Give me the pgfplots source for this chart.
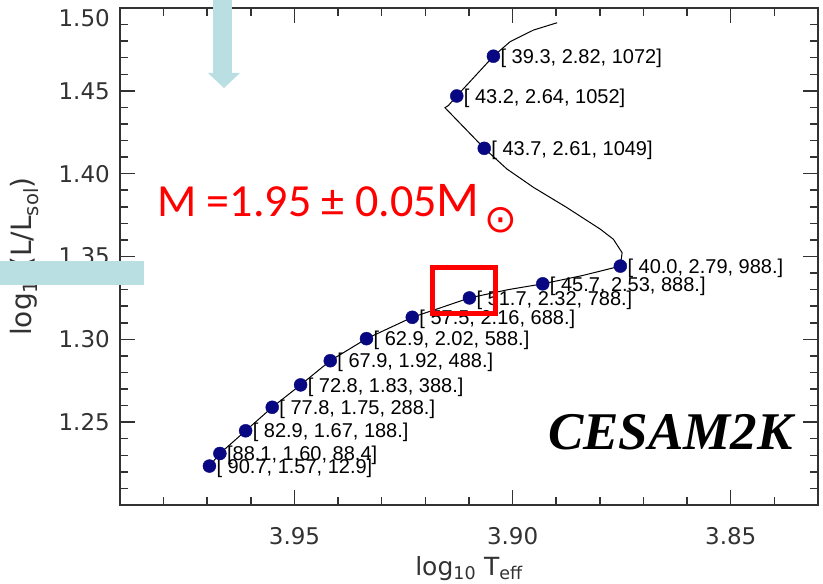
\documentclass[border=0pt]{standalone}
\usepackage{fontspec}
\setmainfont{DejaVu Sans}
\newfontfamily\labfont{Liberation Sans}
\newfontfamily\calfont{Carlito}
\newfontfamily\serfont{Liberation Serif}
\newfontfamily\symfont{DejaVu Sans}
\usepackage{pgfplots}
\usepackage{pgfplotstable}
\pgfplotsset{compat=1.18}
\definecolor{navy}{RGB}{8,8,130}
\definecolor{annblue}{RGB}{185,223,227}
\definecolor{axgray}{RGB}{50,50,50}

\pgfplotstableread[col sep=semicolon]{
x;y;lab
3.9695;1.2235;{[ 90.7, 1.57, 12.9]}
3.9671;1.2311;{[88.1, 1.60, 88.4]}
3.9612;1.2448;{[ 82.9, 1.67, 188.]}
3.9551;1.2590;{[ 77.8, 1.75, 288.]}
3.9486;1.2725;{[ 72.8, 1.83, 388.]}
3.9418;1.2871;{[ 67.9, 1.92, 488.]}
3.9335;1.3004;{[ 62.9, 2.02, 588.]}
3.9230;1.3133;{[ 57.5, 2.16, 688.]}
3.9099;1.3250;{[ 51.7, 2.32, 788.]}
3.8931;1.3335;{[ 45.7, 2.53, 888.]}
3.8753;1.3442;{[ 40.0, 2.79, 988.]}
3.9065;1.4153;{[ 43.7, 2.61, 1049]}
3.9128;1.4469;{[ 43.2, 2.64, 1052]}
3.9044;1.4709;{[ 39.3, 2.82, 1072]}
}\pts

\pgfplotstableread{
x y
3.9695 1.2235
3.9671 1.2311
3.9612 1.2448
3.9551 1.2590
3.9486 1.2725
3.9418 1.2871
3.9335 1.3004
3.9230 1.3133
3.9160 1.3195
3.9099 1.3250
3.9010 1.3300
3.8931 1.3335
3.8840 1.3385
3.8753 1.3442
3.8749 1.3523
3.8769 1.3604
3.8799 1.3665
3.8876 1.3796
3.8952 1.3917
3.9013 1.4028
3.9065 1.4153
3.9155 1.4398
3.9147 1.4412
3.9128 1.4469
3.9044 1.4709
3.9006 1.4796
3.8952 1.4867
3.8898 1.4911
}\track

\begin{document}
\begin{tikzpicture}
\begin{axis}[
  at={(0pt,0pt)}, anchor=south west,
  scale only axis, width=698pt, height=497pt,
  x dir=reverse,
  xmin=3.83, xmax=3.99, ymin=1.20, ymax=1.50,
  tick align=inside,
  hide obscured x ticks=false, hide obscured y ticks=false,
  axis line style={line width=1.5pt, axgray},
  xtick style={line width=1.5pt, color=axgray},
  ytick style={line width=1.5pt, color=axgray},
  xtick={3.85,3.90,3.95}, xticklabels={3.85,3.90,3.95},
  ytick={1.25,1.30,1.35,1.40,1.45,1.50},
  yticklabels={1.25,1.30,1.35,1.40,1.45,{}},
  extra y ticks={1.50}, extra y tick labels={1.50},
  extra y tick style={yticklabel style={yshift=-10pt}},
  minor xtick={3.84,3.86,3.87,3.88,3.89,3.91,3.92,3.93,3.94,3.96,3.97,3.98},
  minor ytick={1.21,1.22,1.23,1.24,1.26,1.27,1.28,1.29,1.31,1.32,1.33,1.34,1.36,1.37,1.38,1.39,1.41,1.42,1.43,1.44,1.46,1.47,1.48,1.49},
  major tick length=15pt, minor tick length=8pt,
  tick label style={font=\fontsize{23}{26}\selectfont, text=axgray},
  xticklabel style={anchor=north, inner sep=0pt},
  yticklabel style={anchor=east, inner sep=0pt},
  xticklabel shift=22pt, yticklabel shift=10pt,
  every axis y label/.style={at={(rel axis cs:0,0.5)}, xshift=-88pt, rotate=90, anchor=base, font=\fontsize{28}{32}\selectfont, text=axgray},
  every axis x label/.style={at={(rel axis cs:0.5,0)}, yshift=-70pt, anchor=base, font=\fontsize{25}{30}\selectfont, text=axgray},
  xlabel={log\textsubscript{10} T\textsubscript{eff}},
  ylabel={log\textsubscript{10}(L/L\textsubscript{sol})},
]
% long ticks at the labelled positions (bottom/top and left/right)
\pgfplotsinvokeforeach{3.85,3.90,3.95}{
  \addplot[axgray, line width=1.5pt, no marks, forget plot] coordinates {(#1,1.20) (#1,1.2091)};
  \addplot[axgray, line width=1.5pt, no marks, forget plot] coordinates {(#1,1.50) (#1,1.4909)};
}
\pgfplotsinvokeforeach{1.25,1.30,1.35,1.40,1.45}{
  \addplot[axgray, line width=1.5pt, no marks, forget plot] coordinates {(3.99,#1) (3.98656,#1)};
  \addplot[axgray, line width=1.5pt, no marks, forget plot] coordinates {(3.83,#1) (3.83344,#1)};
}
\addplot[black, line width=1pt, no marks] table[x=x,y=y]{\track};
\addplot[only marks, mark=*, mark size=6.5pt, mark options={fill=navy, draw=navy},
  point meta=explicit symbolic, nodes near coords,
  every node near coord/.append style={anchor=west, inner sep=0pt, xshift=7pt, yshift=-2pt,
    font=\labfont\fontsize{20}{22}\selectfont, text=black}]
  table[x=x,y=y,meta=lab]{\pts};
\end{axis}
% annotations (pt coordinates: image px -> (px-120, 505-py))
\fill[annblue] (-120pt,220pt) rectangle (24pt,244pt);
\fill[annblue] (93pt,505pt) rectangle (112pt,432pt);
\fill[annblue] (88pt,432pt) -- (120pt,432pt) -- (104pt,417pt) -- cycle;
\draw[red, line width=5pt] (312.5pt,237.5pt) rectangle (375.5pt,191.5pt);
\node[anchor=base west, inner sep=0pt, text=red, font=\calfont\fontsize{46}{50}\selectfont] at (37pt,288pt)
  {M =1.95 ± 0.05{\fontsize{50}{50}\selectfont M}\hspace{5pt}{\symfont\fontsize{39}{42}\selectfont\raisebox{-16pt}{⊙}}};
\node[anchor=base west, inner sep=0pt, font=\serfont\bfseries\itshape\fontsize{53}{60}\selectfont] at (428pt,55pt) {CESAM2K};
\pgfresetboundingbox
\useasboundingbox (-120pt,-79pt) rectangle (703pt,505pt);
\end{tikzpicture}
\end{document}
